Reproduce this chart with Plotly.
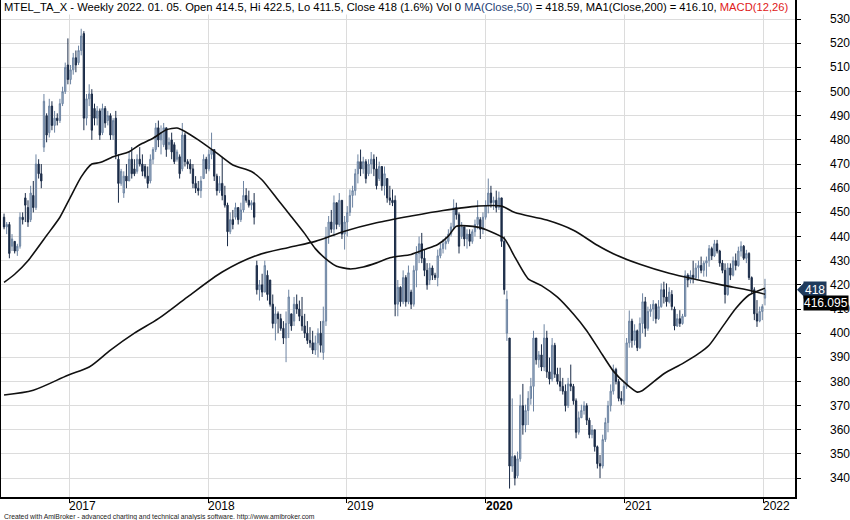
import plotly.graph_objects as go
import pandas as pd

# ---- weekly OHLC ----
opens = [
    448,444,445,436,438,434,436,448,456,452, 447,457,452,470,466,477,490,483,494,486,
    489,488,495,500,511,505,509,514,512,517, 524,489,497,499,493,489,492,483,493,488,
    490,482,489,472,462,458,465,463,472,468, 467,472,470,469,465,463,472,476,485,480,
    478,485,478,480,478,472,473,468,482,471, 470,468,462,460,459,464,472,468,474,476,
    465,459,462,457,453,442,447,448,452,447, 451,457,455,453,454,
    428,418,420,417,424,422,412,404,408,406, 402,398,404,408,405,412,410,407,403,400,
    397,396,393,396,400,392,405,
    440,446,443,454,445,455,441,446,450,457, 459,466,471,468,471,466,470,472,468,464,
    469,461,464,456,455,455,
    412,419,413,423,413,417,412,426,433,437, 431,426,422,427,424,423,432,435,437,438,
    441,444,452,449,440,444,439,441,438,442, 445,447,443,
    448,453,458,454,455,452,456,438,400,398, 345,349,341,348,370,362,368,373,378,
    398,389,391,386,398,384,381,395,383,380, 378,376,370,379,378,372,359,365,368,370,
    364,358,360,353,346,345,356,363,370,376, 385,380,373,372,378,396,405,397,401,394,
    404,413,402,409,410,412,406,411,418,415, 413,416,410,403,406,404,407,424,422,424,
    423,427,428,426,429,430,435,432,437,434, 429,426,416,427,424,430,428,434,436,431,
    433,423,418,408,405,409,414.5,
]
highs = [
    449.5,446,446,441,438,437,450,450,458,455, 461,463,474,472,470,499,491,497,496,492,
    491,497,502,512,522,511,516,517,519,526, 525,499,503,501,495,494,493,495,494,492,
    491,489,492,474,468,467,470,475,477,472, 474,477,474,470,469,474,477,487,488,486,
    487,485,481,483,479,476,474,487,483,472, 472,470,465,463,465,474,473,476,483,476,
    466,465,473,461,454,450,451,454,452,454, 463,460,459,455,458,
    430,422,424.6,430,426,422,416,411,409,408, 405,409,418,408,415,416,413.5,415,408,405,
    402.5,401,399,402,405,411,444,
    448.5,451,457,454,458,455,448.5,452.6,459.5,461, 468,474,476,473,472,472,475,474,473,471,
    469,469,464,461,459.5,457,
    422,419.4,426,424,428,418,428,436,440,441.5, 434.6,429,429,428,425,434.6,437,439,440,443,
    445.7,455.4,454,450,446,444,443,443,443,447, 455,448,450,
    455,464,461,456.5,459,458.6,456,440,417.6,398, 373,349.6,351,374.6,379,370.4,376,381.5,401,
    398,392.6,395.4,403.7,401,389.9,398,396,385.7,385.7, 381.5,378.8,381.5,387,379,373,367.6,370.4,371.8,371,
    365,362,360,353.5,349.6,358,365,372,378.8,387, 385.7,381,376,380,398,409.4,406,403.7,401.5,406.5,
    416.5,415,411,412,413.7,412.3,413.7,420.6,421.3,420.6, 419,417.8,411,408,409.5,408,426,424.8,426,430,
    429,430,431.7,430,431.7,436.5,435.8,438.6,438.6,434.5, 430.3,428.9,429,428.9,431.7,433,435.8,438,436.5,434.5,
    433.5,423.5,419,413.7,411,412,422.5,
]
lows = [
    443,441,431,434,433,432,435,445,446,444, 446,450,451,464,460,475,479,481,484,483,
    486,487,494,499,503,503,507,508,511,515, 484,486,494,480,486,486,480,482,485,486,
    480,480,472,454,461,456,460,463,464,465, 466,469,465,464,460,462,470,475,477,474,
    477,473,476,472,470,471,464,467,469,468, 466,460,458,457,456,464,466,467,472,463,
    457,458,455,452,436,441,443,447,445,446, 450,454,452,451,445,
    416,413.5,415,417,413.5,411,402,397,400,401, 395.5,388,398,401,403,408,405,401,398,395.5,
    394,391.4,391,390,392,389,403,
    437,441.5,440,443,444,439,434.6,440,448.5,452, 457,462,465,466,462,465,466,465,459.5,463,
    459,457,454,453,452.6,407,
    407,411,412,411,412,410,411,419,429,429, 423.6,418,420,422,422,419.4,431,433,434.6,437,
    440,443,447,433,439,436,435,436,437,440, 443,439,441,
    447,449.6,452,451,450,451,435.7,416,396.8,335.7, 342.6,337,340,346.8,358,359,362,370.4,367.6,
    387,385.7,384.3,384.3,381.5,378.8,380,381.5,378.8,376, 374.6,367.6,369,376,370.4,356.5,358,364.9,366.3,362,
    356.5,356.5,351,344,340,344,355,359,367.6,374.6, 378.8,371.8,370.4,370.4,377,394,394,395,392.6,393.5,
    400,398.5,401,406.8,405,404,405.5,410.5,412.3,411, 412.3,409.5,401.2,402.6,402.6,403.5,406.8,419,420.6,420.6,
    422,422.5,424.8,423.4,423.4,427.5,430.3,431.5,433,427.5, 424.8,412.3,415.5,422,423.5,426,427.5,431.7,430.3,429,
    422,416.5,405.4,402.6,404.5,405.4,411.5,
]
closes = [
    444,445,433,439,434,436,448,447,453,446, 458,452,470,466,463,496,482,494,486,489,
    488,495,500,510,505,509,514,511,517,523, 489,497,499,484,489,492,482,493,487,490,
    482,488,474,462,467,465,463,472,466,466, 472,470,467,465,462,472,476,485,480,483,
    485,476,479,475,471,475,466,482,471,470, 468,462,460,459,463,472,468,474,476,465,
    459,462,457,453,442,447,445,452,447,451, 457,455,453,454,448,
    418,420,417,428,416,412,404,408,406,402, 398,404,415,403,412,410,407,403,400,397,
    396,393,396,400,395,405,440,
    446,443,454,445,455,441,446,450,457,459, 466,471,468,471,464,470,472,468,461,469,
    461,466,456,455,454,412,
    419,413,423,413,425,412,426,433,437,431, 426,420,427,424,423,432,435,437,438,441,
    444,452,449,436,444,439,441,438,442,445, 448,443,448,
    453,458,454,455,452,456,438,418,414,345, 349,340,348,370,362,368,373,378,398,
    389,391,386,398,384,381,395,383,380,378, 376,370,379,378,372,359,365,368,370,364,
    358,360,353,346,345,356,363,370,376,385, 380,373,372,378,396,405,397,401,394,404,
    413,402,409,410,412,406,411,418,415,413, 417,411,403,406,404,407,424,422,424,423,
    427,428,426,429,430,435,432,437,434,429, 426,416,427,424,430,428,434,436,431,433,
    423,418,408,405,409,411,418,
]
last_date = "2022-01-05"

# ---- moving averages (week index, value) ----
ma50_idx = [0,4,9,16,21,25,29,33,36,41,47,51,56,61,65,68,73,80,86,93,97,103,108,113,117,122,125,130,135,140,
            145,153,158,163,167,170,178,183,188,192,197,202,208,214,219,224,229,234,238,240,248,255,261,265,270,275,280,286]
ma50_val = [421,424.4,430,440.4,448,456.4,464.7,470,470.6,473,475.1,478,480.7,484.2,484.9,483.5,480,474.5,469.6,466.9,
            463.4,455.1,448.2,441.2,435,429.8,427.7,426.6,427.4,429.1,431.2,432.6,434.6,436.7,440.2,444.3,443.9,442,439.2,431.5,
            422.5,419.7,414.9,407.9,401,392.6,384.3,378.8,375.6,376.3,383.2,387.4,391.5,395,402.6,410.2,415.8,418.6]
ma200_idx = [0,11,24,32,40,49,58,69,82,95,107,117,128,140,153,165,178,187,192,204,214,223,229,239,250,261,270,280,286]
ma200_val = [374.4,376.4,382.6,386,393,400,406,415,425.3,432.2,435.5,438,442.2,445.7,448.5,450.8,452.6,452.6,449.9,446.8,
             442.6,436.4,432.9,428.5,424.8,422,419.9,417.8,416.1]
ma200_last_label = "416.095"

year_ticks = ["2017", "2018", "2019", "2020", "2021", "2022"]
y_ticks = list(range(340, 531, 10))

assert len(opens) == len(highs) == len(lows) == len(closes)
n = len(closes)
dates = pd.date_range(end=last_date, periods=n, freq="7D")

FONT = "Liberation Sans, Arial, sans-serif"
UP_LINE, UP_FILL = "#6d84a2", "#a8b8cc"
DN = "#1b2c48"

fig = go.Figure()
fig.add_trace(go.Candlestick(
    x=dates, open=opens, high=highs, low=lows, close=closes,
    increasing=dict(line=dict(color=UP_LINE, width=1), fillcolor=UP_FILL),
    decreasing=dict(line=dict(color=DN, width=1), fillcolor=DN),
    whiskerwidth=0, showlegend=False, hoverinfo="skip",
))
fig.add_trace(go.Scatter(
    x=[dates[i] for i in ma200_idx], y=ma200_val, mode="lines",
    line=dict(color="#111111", width=1.6, shape="spline", smoothing=0.8),
    showlegend=False, hoverinfo="skip",
))
fig.add_trace(go.Scatter(
    x=[dates[i] for i in ma50_idx], y=ma50_val, mode="lines",
    line=dict(color="#111111", width=1.6, shape="spline", smoothing=0.6),
    showlegend=False, hoverinfo="skip",
))

x0 = dates[0] - pd.Timedelta(days=8)
x1 = dates[-1] + pd.Timedelta(days=79)

fig.update_layout(
    width=850, height=520,
    margin=dict(l=1, r=55, t=0, b=23, autoexpand=False),
    paper_bgcolor="white", plot_bgcolor="white",
    font=dict(family=FONT, size=12, color="black"),
    xaxis=dict(
        type="date", range=[x0, x1], rangeslider=dict(visible=False),
        tickvals=[f"{y}-01-01" for y in year_ticks], showticklabels=False,
        ticks="outside", ticklen=4, tickcolor="black",
        showgrid=True, gridcolor="#dcdcdc", gridwidth=1,
        showline=True, linecolor="black", linewidth=1.5, zeroline=False,
    ),
    yaxis=dict(
        side="right", range=[332.2, 537.9], tickvals=y_ticks, showticklabels=False,
        ticks="outside", ticklen=4, tickcolor="black",
        showgrid=True, gridcolor="#dcdcdc", gridwidth=1,
        showline=True, linecolor="black", linewidth=1.5, mirror=True, zeroline=False,
    ),
)

# price labels on the right
for v in y_ticks:
    fig.add_annotation(x=1, xref="paper", xanchor="left", xshift=33, y=v, yref="y", yanchor="middle",
                       text=str(v), showarrow=False, font=dict(size=12, color="black"))

# year labels, left-aligned at their ticks
for yr in year_ticks:
    txt = f"<b>{yr}</b>" if yr == "2020" else yr
    fig.add_annotation(x=f"{yr}-01-01", xref="x", y=0, yref="paper", yanchor="top",
                       xanchor="left", xshift=-2, yshift=0, text=txt, showarrow=False,
                       font=dict(size=12, color="black"))

header = ("MTEL_TA_X - Weekly 2022. 01. 05. Open 414.5, Hi 422.5, Lo 411.5, Close 418 (1.6%) Vol 0 "
          "<span style='color:#1f3f75'>MA(Close,50)</span> = 418.59, MA1(Close,200) = 416.10, "
          "<span style='color:#e02020'>MACD(12,26)</span>")
fig.add_annotation(x=0, xref="paper", xanchor="left", xshift=1, y=1, yref="paper", yanchor="top",
                   yshift=1, text=header, showarrow=False, bgcolor="white", borderpad=1,
                   font=dict(size=11.2, color="black"))

fig.add_annotation(x=0, xref="paper", xanchor="left", xshift=1, y=0, yref="paper", yanchor="top",
                   yshift=-14, showarrow=False,
                   text="Created with AmiBroker - advanced charting and technical analysis software. http://www.amibroker.com",
                   font=dict(size=6.8, color="#222222"))

# last-value labels on the price axis
fig.add_shape(type="path", xref="paper", xsizemode="pixel", xanchor=1, yref="y", ysizemode="pixel",
              yanchor=closes[-1], path="M 2,0 L 9,-7 L 9,7 Z", fillcolor="#1f3a5c", line=dict(width=0))
fig.add_annotation(x=1, xref="paper", xanchor="left", xshift=8, y=closes[-1], yref="y", yanchor="middle",
                   text=f"{closes[-1]:g}", showarrow=False, bgcolor="#1f3a5c", borderpad=1,
                   font=dict(size=12, color="white"))
fig.add_annotation(x=1, xref="paper", xanchor="left", xshift=8, y=closes[-1], yref="y", yanchor="middle",
                   yshift=-13, text=ma200_last_label, showarrow=False, bgcolor="black", borderpad=0,
                   font=dict(size=12, color="white"))

fig.write_html("out.html", config={"displayModeBar": False},
               post_script="document.body.style.margin='0';")
